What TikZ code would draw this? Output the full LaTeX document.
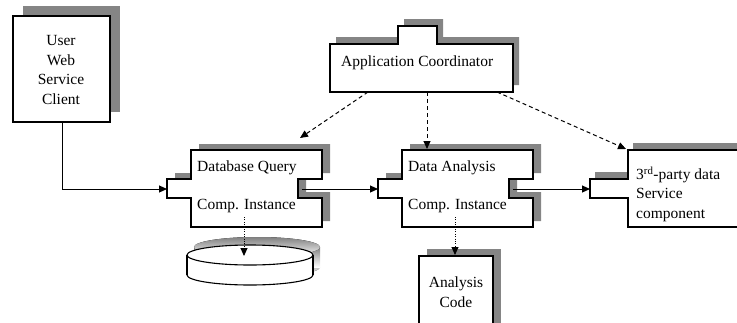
\documentclass[tikz,border=0pt]{standalone}
\usepackage{fontspec}
\setmainfont{Liberation Serif}
\usepackage{tikz}
\usetikzlibrary{arrows.meta}
\definecolor{shade}{HTML}{858585}
\tikzset{
  comp/.style={draw=black, fill=white, line width=1.2pt, preaction={fill=shade, transform canvas={shift={(#1)}}}},
  comp/.default={8,-6},
  link/.style={draw=black, line width=1pt, -{Triangle[length=8pt,width=7pt]}},
  dashlink/.style={link, dash pattern=on 4pt off 3pt},
  dotlink/.style={link, line width=0.9pt, dash pattern=on 1pt off 1.4pt},
  lbl/.style={inner sep=0pt, font=\fontsize{15.5}{19.5}\selectfont}
}

\begin{document}
\begin{tikzpicture}[x=1pt, y=-1pt]
  \useasboundingbox (0,0) rectangle (737,322);

  \coordinate (user-out) at (62,122);
  \coordinate (dbq-in) at (167,189);
  \coordinate (dbq-out) at (302,189);
  \coordinate (da-in) at (378,189);
  \coordinate (da-out) at (513,189);
  \coordinate (tp-in) at (590,189);
  \coordinate (coord-a) at (368,92);
  \coordinate (coord-b) at (427,92);
  \coordinate (coord-c) at (497,92);
  \coordinate (dbq-top) at (300,138);
  \coordinate (da-top) at (427,149);
  \coordinate (tp-top) at (626,149);
  \coordinate (dbq-db) at (244,217);
  \coordinate (disk-top) at (244,256);
  \coordinate (da-code) at (455,217);
  \coordinate (code-top) at (455,255);

  % user client
  \draw[comp={10,-10}] (13,16) rectangle (110,122);
  \node[lbl, align=center] (user) at (61,70) {User\\Web\\Service\\Client};

  % coordinator with tab on top
  \draw[comp={6,-7}] (330,44) -- (398,44) -- (398,26) -- (437,26) -- (437,44) -- (513,44)
    -- (513,92) -- (330,92) -- cycle;
  \node[lbl, anchor=west] (coord) at (341,63) {Application Coordinator};

  % database query component
  \draw[comp] (191,150) -- (322,150) -- (322,179) -- (298,179) -- (298,198) -- (322,198)
    -- (322,227) -- (191,227) -- (191,198) -- (167,198) -- (167,179) -- (191,179) -- cycle;
  \node[lbl, anchor=west] (dbq-name) at (197,168) {Database Query};
  \node[lbl, anchor=west] (dbq-inst) at (197,206) {Comp. Instance};

  % data analysis component
  \draw[comp] (402,150) -- (533,150) -- (533,179) -- (509,179) -- (509,198) -- (533,198)
    -- (533,227) -- (402,227) -- (402,198) -- (378,198) -- (378,179) -- (402,179) -- cycle;
  \node[lbl, anchor=west] (da-name) at (408,168) {Data Analysis};
  \node[lbl, anchor=west] (da-inst) at (408,206) {Comp. Instance};

  % third-party component, runs off the right edge
  \draw[comp={5,-7}] (628,150) -- (750,150) -- (750,227) -- (628,227) -- (628,198)
    -- (590,198) -- (590,179) -- (628,179) -- cycle;
  \node[lbl, align=left, anchor=west] (tp) at (636,194) {3\textsuperscript{rd}-party data\\Service\\component};

  % analysis code
  \draw[comp={8,-7}] (419,256) rectangle (493,335);
  \node[lbl, align=center] (code) at (456,292) {Analysis\\Code};

  % disk
  \begin{scope}[shift={(7,-8)}]
    \fill[shade] (250,275) ellipse[x radius=63, y radius=10];
    \fill[shade] (187,255) rectangle (313,275);
    \fill[shade] (250,255) ellipse[x radius=63, y radius=10];
  \end{scope}
  \filldraw[fill=white, line width=1.1pt] (250,275) ellipse[x radius=63, y radius=10];
  \fill[white] (187,255) rectangle (313,275);
  \draw[line width=1.1pt] (187,255) -- (187,275) (313,255) -- (313,275);
  \filldraw[fill=white, line width=1.1pt] (250,255) ellipse[x radius=63, y radius=10];

  \draw[link] (user-out) |- (dbq-in);
  \draw[link] (dbq-out) -- (da-in);
  \draw[link] (da-out) -- (tp-in);
  \draw[dashlink] (coord-a) -- (dbq-top);
  \draw[dashlink] (coord-b) -- (da-top);
  \draw[dashlink] (coord-c) -- (tp-top);
  \draw[dotlink] (dbq-db) -- (disk-top);
  \draw[dotlink] (da-code) -- (code-top);
\end{tikzpicture}
\end{document}
